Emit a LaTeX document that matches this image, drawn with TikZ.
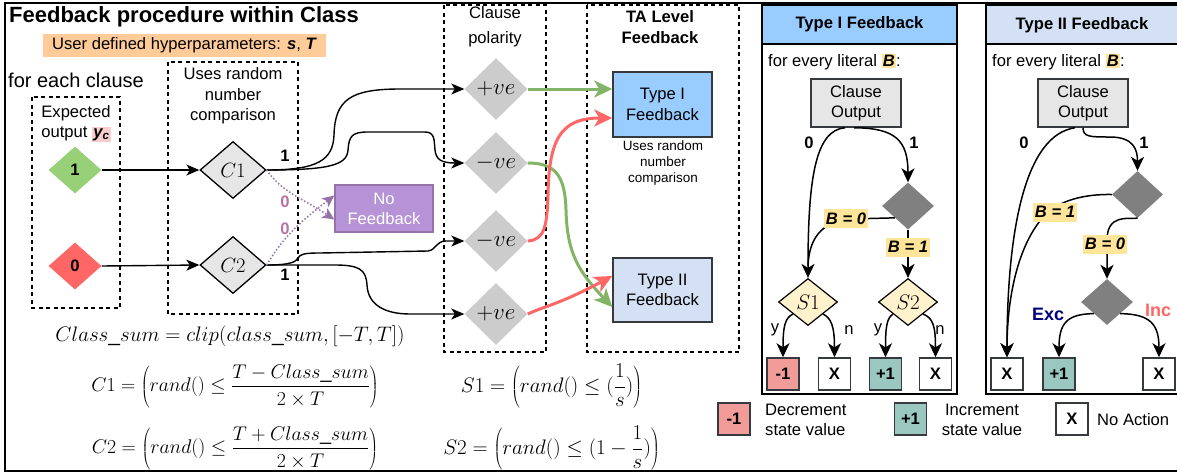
\RequirePackage{fix-cm}
\documentclass[tikz,border=0pt]{standalone}
\usepackage[no-math]{fontspec}
\setmainfont{Liberation Sans}
\usetikzlibrary{arrows.meta,shapes.geometric}
\definecolor{orangeb}{HTML}{FFCC99}
\definecolor{pinkh}{HTML}{F8CECC}
\definecolor{greend}{HTML}{97D077}
\definecolor{redd}{HTML}{FF6666}
\definecolor{greyc}{HTML}{E6E6E6}
\definecolor{purpf}{HTML}{B692D6}
\definecolor{purpd}{HTML}{9673A6}
\definecolor{purpl}{HTML}{B5739D}
\definecolor{greyp}{HTML}{CCCCCC}
\definecolor{blueA}{HTML}{99CCFF}
\definecolor{blueB}{HTML}{D4E1F5}
\definecolor{greena}{HTML}{82B366}
\definecolor{yellh}{HTML}{FFE599}
\definecolor{yellS}{HTML}{FFF2CC}
\definecolor{darkd}{HTML}{808080}
\definecolor{minusc}{HTML}{F19C99}
\definecolor{plusc}{HTML}{9AC7BF}
\definecolor{navyx}{HTML}{000080}
\definecolor{bordr}{HTML}{36393D}
\newcommand{\hlbox}[2]{{\setlength{\fboxsep}{1.2pt}\colorbox{#1}{#2}}}
\tikzset{
  dbox/.style={draw, line width=1.5pt, dash pattern=on 4pt off 3.5pt},
  blk/.style={draw=black, line width=1.4pt, -{Stealth[length=13pt,width=11pt,inset=3.5pt]}},
  pblk/.style={draw=black, line width=1.5pt, -{Stealth[length=14pt,width=13pt,inset=4pt]}},
  garr/.style={draw=greena, line width=3pt, -{Stealth[length=18pt,width=17pt,inset=5pt]}},
  rarr/.style={draw=redd, line width=3pt, -{Stealth[length=18pt,width=17pt,inset=5pt]}},
  parr/.style={draw=purpd, line width=1.5pt, dotted, -{Stealth[length=12pt,width=11pt,inset=3pt]}},
  dia/.style={diamond, inner sep=0pt},
  cdia/.style={dia, draw=black, line width=1.3pt, fill=greyc, minimum width=66pt, minimum height=57pt, font=\fontsize{20.6}{24}\selectfont},
  pdia/.style={dia, fill=greyp, minimum width=63pt, minimum height=62pt, font=\fontsize{23}{27}\selectfont},
  ddia/.style={dia, fill=darkd, minimum width=52pt, minimum height=47pt},
  sdia/.style={dia, draw=black, line width=1.2pt, fill=yellS, minimum width=59pt, minimum height=47pt, font=\fontsize{21}{24}\selectfont},
  sq/.style={draw=bordr, line width=1.5pt, minimum width=32pt, minimum height=32pt, font=\bfseries\fontsize{16.6}{19}\selectfont},
  rbox/.style={draw=bordr, line width=1.5pt, minimum width=99pt, minimum height=65pt},
  cob/.style={draw=bordr, line width=1.5pt, fill=greyc, minimum width=90pt, minimum height=48pt, font=\fontsize{16.6}{20.5}\selectfont},
  bl/.style={fill=yellh, inner xsep=1.5pt, minimum height=19pt, font=\bfseries\itshape\fontsize{16.6}{19}\selectfont},
  lbl/.style={font=\bfseries\fontsize{16.6}{19}\selectfont},
  fml/.style={font=\fontsize{19.8}{24}\selectfont},
}
\begin{document}
\begin{tikzpicture}[x=1pt,y=-1pt, every node/.append style={font=\fontsize{16.6}{19.5}\selectfont, align=center, inner sep=0pt}]
\useasboundingbox (0,0) rectangle (1177,474);
% outer frame
\draw[line width=1.5pt] (1185,3) -- (5,3) -- (5,471) -- (1185,471);
% dashed groups
\draw[dbox] (32,97) rectangle (120,308);
\draw[dbox] (168,62) rectangle (298,314);
\draw[dbox] (444,5) rectangle (546,352);
\draw[dbox] (587,5) rectangle (739,352);
% texts
\node[anchor=west, font=\bfseries\fontsize{22}{26}\selectfont] (title) at (9,17) {Feedback procedure within Class};
\node[fill=orangeb, minimum width=283pt, minimum height=23pt] (hyp) at (184.5,45.5) {User defined hyperparameters: \textbf{\textit{s}}, \textbf{\textit{T}}};
\node[anchor=west, font=\fontsize{20}{24}\selectfont] (fec) at (8,80) {for each clause};
\node (expo) at (76,124) {Expected\\output \hlbox{pinkh}{\textbf{\textit{y\textsubscript{c}}}}};
\node[font=\fontsize{16.6}{20.5}\selectfont] (urn) at (233,96) {Uses random\\number\\comparison};
\node[font=\fontsize{16.6}{25}\selectfont] (cpol) at (495,27) {Clause\\polarity};
\node[font=\bfseries\fontsize{16.6}{21}\selectfont] (tal) at (660,27) {TA Level\\Feedback};
% left nodes
\node[dia, fill=greend, minimum width=53pt, minimum height=47pt, font=\bfseries\fontsize{16.6}{19}\selectfont] (d1) at (75,170) {1};
\node[dia, fill=redd, minimum width=53pt, minimum height=47pt, font=\bfseries\fontsize{16.6}{19}\selectfont] (d0) at (75,266) {0};
\node[cdia] (c1) at (233,170) {$C1$};
\node[cdia] (c2) at (233,265) {$C2$};
\node[draw=purpd, line width=1.3pt, fill=purpf, text=white, minimum width=98pt, minimum height=47pt, font=\fontsize{16.6}{20}\selectfont] (nf) at (384,208.5) {No\\Feedback};
\node[pdia] (p1) at (496,89) {$+ve$};
\node[pdia] (m1) at (496,163) {$-ve$};
\node[pdia] (m2) at (496,241) {$-ve$};
\node[pdia] (p2) at (496,314) {$+ve$};
\node[rbox, fill=blueA, font=\fontsize{16.6}{20.5}\selectfont] (ta1) at (662.5,104.5) {Type I\\Feedback};
\node[rbox, fill=blueB, minimum height=64pt, font=\fontsize{16.6}{20.5}\selectfont] (ta2) at (662.5,290) {Type II\\Feedback};
\node[font=\fontsize{13.5}{16}\selectfont] (urn2) at (663,163) {Uses random\\number\\comparison};
% left connectors
\draw[blk] (d1.east) -- (c1.west);
\draw[blk] (d0.east) -- (c2.west);
\draw[blk] (c1.east) .. controls (318,170) and (333,160) .. (334,135) .. controls (335,100) and (350,89) .. (400,89) -- (p1.west);
\draw[blk] (c1.east) .. controls (330,170) and (347,165) .. (348,150) .. controls (349,136) and (352,132) .. (368,132) -- (425,132) .. controls (435,132) and (434,140) .. (435,150) .. controls (436,160) and (442,163) .. (m1.west);
\draw[blk] (c2.east) .. controls (290,265) and (296,262) .. (298,258) .. controls (300,254) and (305,253) .. (320,253) -- (428,251) .. controls (436,250) and (436,241) .. (446,241) -- (m2.west);
\draw[blk] (c2.east) -- (335,265) .. controls (360,265) and (366,270) .. (367,285) .. controls (368,305) and (385,314) .. (410,314) -- (p2.west);
\draw[parr] (c1.east) .. controls (282,192) and (300,197) .. ([yshift=-11pt]nf.west);
\draw[parr] (c2.east) .. controls (284,236) and (300,222) .. ([yshift=13pt]nf.west);
\node[lbl] (one1) at (285,156) {1};
\node[lbl] (one2) at (285,275) {1};
\node[lbl, text=purpl] (zero1) at (285,202) {0};
\node[lbl, text=purpl] (zero2) at (285,229) {0};
% polarity to TA
\draw[garr] (p1.east) -- (ta1.west |- p1.east);
\draw[garr] (m1.east) .. controls (555,163) and (565,175) .. (566,210) .. controls (567,255) and (580,273) .. ([yshift=-17pt]ta2.west);
\draw[rarr] (m2.east) .. controls (545,240) and (547,225) .. (548,195) .. controls (549,140) and (560,118) .. ([yshift=-13.5pt]ta1.west);
\draw[rarr] (p2.east) .. controls (545,306) and (560,304) .. ([yshift=14pt]ta2.west);
% formulas
\node[font=\fontsize{21}{25}\selectfont] (fcs) at (230,336) {$Class\_sum = clip(class\_sum,\bigl[-T,T\bigr])$};
\node[fml] (fc1) at (235,386) {$\displaystyle C1=\left(rand()\le\frac{T-Class\_sum}{2\times T}\right)$};
\node[fml] (fc2) at (235,448) {$\displaystyle C2=\left(rand()\le\frac{T+Class\_sum}{2\times T}\right)$};
\node[font=\fontsize{21}{25}\selectfont] (fs1) at (551.5,386) {$\displaystyle S1=\left(rand()\le(\frac{1}{s})\right)$};
\node[font=\fontsize{21}{25}\selectfont] (fs2) at (551.5,448) {$\displaystyle S2=\left(rand()\le(1-\frac{1}{s})\right)$};
% ===== Type I panel =====
\draw[line width=1.5pt, fill=white] (762,5) rectangle (957,394);
\node[draw, line width=1.5pt, fill=blueA, minimum width=195pt, minimum height=39pt, font=\bfseries\fontsize{16.6}{19}\selectfont] (h1) at (859.5,24.5) {Type I Feedback};
\node[anchor=west] (fel1) at (768,62) {for every literal \hlbox{yellh}{\textbf{\textit{B}}}:};
\node[cob] (co1) at (856,103) {Clause\\Output};
\node[ddia] (dd1) at (908,206) {};
\node[sdia] (s1) at (808,302) {$S1$};
\node[sdia] (s2) at (908,302) {$S2$};
\node[sq, fill=minusc] (b1) at (783,374) {-1};
\node[sq, fill=white] (b2) at (834.5,374) {X};
\node[sq, fill=plusc] (b3) at (885.5,374) {+1};
\node[sq, fill=white] (b4) at (935.5,374) {X};
\draw[pblk] ([xshift=-11pt]co1.south) .. controls (815,130) and (808,180) .. (s1.north);
\draw[pblk] ([xshift=-2pt]co1.south) .. controls (895,128) and (908,140) .. (dd1.north);
\draw[line width=1.5pt] (dd1.south west) -- (850,219) .. controls (820,222) and (809,240) .. (808,266);
\draw[pblk] (dd1.south) -- (s2.north);
\draw[pblk] (s1.south west) .. controls (785,318) and (783,326) .. (b1.north);
\draw[pblk] (s1.south east) .. controls (831,318) and (834.5,326) .. (b2.north);
\draw[pblk] (s2.south west) .. controls (887,318) and (885.5,326) .. (b3.north);
\draw[pblk] (s2.south east) .. controls (933,318) and (935.5,326) .. (b4.north);
\node[lbl] (z1) at (809,143) {0};
\node[lbl] (o1) at (914,143) {1};
\node[bl] (bz1) at (846,218.5) {B = 0};
\node[bl] (bo1) at (908,247) {B = 1};
\node (y1) at (775,330) {y};
\node (n1) at (849,330) {n};
\node (y2) at (878,330) {y};
\node (n2) at (940,330) {n};
% ===== Type II panel =====
\draw[line width=1.5pt, fill=white] (986,5) rectangle (1190,394);
\draw[line width=1.5pt, fill=blueB] (986,5) rectangle (1190,44);
\node[font=\bfseries\fontsize{16.6}{19}\selectfont] (h2) at (1082,25) {Type II Feedback};
\node[anchor=west] (fel2) at (992,62) {for every literal \hlbox{yellh}{\textbf{\textit{B}}}:};
\node[cob] (co2) at (1083,103) {Clause\\Output};
\node[ddia, minimum width=51pt] (dda) at (1137.5,194.5) {};
\node[ddia, minimum height=46pt] (ddb) at (1107,302) {};
\node[sq, fill=white] (x1) at (1007,374) {X};
\node[sq, fill=plusc] (q1) at (1059,374) {+1};
\node[sq, fill=white] (x2) at (1159,374) {X};
\draw[pblk] ([xshift=-8pt]co2.south) .. controls (1025,135) and (1007,230) .. (x1.north);
\draw[pblk] (co2.south) .. controls (1083,137) and (1090,137) .. (1110,137) .. controls (1134,137) and (1137.5,150) .. (dda.north);
\draw[pblk] (dda.west) .. controls (1085,194) and (1060,200) .. (1045,215) .. controls (1017,245) and (1007,300) .. (x1.north);
\draw[pblk] (dda.south) .. controls (1128,219) and (1107,214) .. (1107,240) -- (ddb.north);
\draw[pblk] (ddb.south west) .. controls (1066,314) and (1059,324) .. (q1.north);
\draw[pblk] (ddb.south east) .. controls (1150,314) and (1159,324) .. (x2.north);
\node[lbl] (z2) at (1024,143) {0};
\node[lbl] (o2) at (1144,143) {1};
\node[bl] (bo2) at (1055,212) {B = 1};
\node[bl] (bz2) at (1105,244) {B = 0};
\node[font=\bfseries\fontsize{18}{21}\selectfont, text=navyx] (exc) at (1048,314) {Exc};
\node[font=\bfseries\fontsize{18}{21}\selectfont, text=redd] (inc) at (1158,310) {Inc};
% ===== legend =====
\node[sq, fill=minusc] (lm) at (734,419) {-1};
\node[anchor=west, align=left, font=\fontsize{16.6}{20}\selectfont] (lmt) at (765,420) {Decrement\\state value};
\node[sq, fill=plusc] (lp) at (910.5,419) {+1};
\node[font=\fontsize{16.6}{20}\selectfont] (lpt) at (982,420) {Increment\\state value};
\node[sq, fill=white] (lx) at (1072,419) {X};
\node[anchor=west] (lxt) at (1097,420) {No Action};
\end{tikzpicture}
\end{document}
